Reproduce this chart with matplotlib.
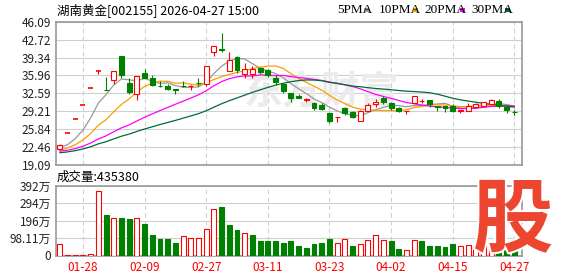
import matplotlib
matplotlib.use('Agg')
import matplotlib.pyplot as plt
from matplotlib.patches import Rectangle
import matplotlib.patheffects as pe
import pandas as pd

plt.rcParams['font.family'] = ['Noto Sans CJK SC', 'DejaVu Sans']

# 日期 (60 个交易日)
dates = ['01-23', '01-26', '01-27', '01-28', '01-29', '01-30', '02-02', '02-03', '02-04', '02-05',
         '02-06', '02-09', '02-10', '02-11', '02-12', '02-13', '02-24', '02-25', '02-26', '02-27',
         '03-02', '03-03', '03-04', '03-05', '03-06', '03-09', '03-10', '03-11', '03-12', '03-13',
         '03-16', '03-17', '03-18', '03-19', '03-20', '03-23', '03-24', '03-25', '03-26', '03-27',
         '03-30', '03-31', '04-01', '04-02', '04-03', '04-07', '04-08', '04-09', '04-10', '04-13',
         '04-14', '04-15', '04-16', '04-17', '04-20', '04-21', '04-22', '04-23', '04-24', '04-27']

opens = [22.10, 25.19, 27.71, 30.48, 33.53, 36.88, 33.25, 35.10, 39.60, 34.50,
         32.40, 36.50, 35.50, 34.00, 33.90, 33.35, 34.00, 33.90, 34.50, 34.30,
         40.30, 41.00, 36.85, 39.45, 36.20, 36.20, 37.30, 37.00, 35.50, 34.30,
         32.60, 32.10, 31.40, 30.70, 30.40, 28.90, 28.10, 29.75, 29.00, 27.40,
         29.30, 30.50, 31.75, 30.70, 29.75, 29.25, 30.85, 31.10, 31.30, 30.20,
         30.15, 30.15, 29.35, 29.35, 30.10, 30.25, 30.60, 31.20, 30.05, 29.05]
highs = [23.00, 25.19, 27.71, 30.48, 33.53, 36.88, 35.60, 36.80, 39.65, 35.50,
         35.95, 37.20, 36.00, 34.90, 34.30, 33.40, 34.90, 34.20, 35.50, 37.75,
         41.55, 44.00, 40.40, 39.60, 38.30, 37.80, 37.60, 37.20, 36.00, 34.60,
         32.60, 32.40, 31.70, 30.90, 30.80, 29.00, 28.20, 30.00, 29.20, 29.50,
         30.80, 31.55, 32.10, 31.00, 30.00, 29.35, 32.10, 31.60, 31.40, 30.20,
         30.20, 30.50, 29.50, 30.70, 30.70, 30.95, 31.60, 31.50, 30.10, 29.40]
lows = [22.00, 25.19, 27.71, 30.48, 33.53, 36.17, 33.19, 34.40, 35.40, 32.50,
        31.30, 35.40, 34.00, 33.70, 33.30, 32.45, 33.70, 33.20, 33.97, 33.95,
        39.60, 40.40, 36.80, 36.50, 35.50, 35.50, 36.30, 35.60, 34.20, 32.60,
        31.00, 31.65, 31.00, 29.45, 29.50, 26.95, 27.20, 28.50, 27.90, 27.35,
        29.20, 30.10, 30.60, 29.50, 29.00, 28.70, 30.80, 30.70, 30.10, 29.30,
        29.05, 29.10, 28.90, 29.30, 30.00, 30.20, 30.55, 29.80, 28.95, 28.50]
closes = [22.90, 25.19, 27.71, 30.48, 33.53, 36.88, 33.19, 36.80, 36.05, 32.80,
          35.90, 35.50, 34.15, 33.95, 33.35, 33.30, 33.95, 34.00, 34.45, 37.75,
          41.50, 40.85, 38.80, 37.00, 37.15, 37.10, 36.60, 36.00, 34.80, 33.00,
          31.75, 31.70, 31.45, 29.80, 29.60, 27.45, 28.15, 28.85, 28.20, 29.20,
          30.40, 30.95, 31.00, 29.80, 29.28, 29.30, 32.05, 31.15, 30.50, 29.95,
          29.90, 29.35, 29.45, 30.20, 30.50, 30.90, 31.40, 30.20, 29.40, 29.00]
# 图表之前的收盘价 (用于均线)
prior_closes = [20.5, 20.7, 20.9, 21.0, 20.6, 20.8, 21.1, 20.7, 20.9, 20.8,
                21.9, 21.6, 21.3, 21.5, 21.7, 21.4, 21.2, 21.5, 21.6, 21.3,
                21.2, 21.6, 21.5, 21.3, 21.4, 22.6, 22.0, 22.3, 22.2]
# 成交量 (万手)
volumes = [62, 5, 3, 4, 6, 361, 226, 212, 212, 203,
           212, 175, 113, 90, 90, 68, 107, 96, 96, 150,
           263, 273, 171, 141, 124, 113, 81, 81, 81, 70,
           81, 56, 43, 62, 68, 90, 68, 94, 51, 62,
           85, 113, 88, 79, 34, 32, 88, 79, 56, 51,
           47, 62, 51, 60, 55, 51, 70, 65, 43, 43.538]

price_ticks = [19.09, 22.465, 25.84, 29.215, 32.59, 35.965, 39.34, 42.715, 46.09]
price_labels = ['19.09', '22.46', '25.84', '29.21', '32.59', '35.96', '39.34', '42.72', '46.09']
vol_ticks = [0, 98.11, 196.22, 294.33, 392.44]
vol_labels = ['0', '98.11万', '196万', '294万', '392万']

ma_periods = [5, 10, 20, 30]
ma_names = ['5PMA', '10PMA', '20PMA', '30PMA']
ma_colors = ['#999999', '#f5a000', '#ff00ff', '#006c35']

RED = '#ff0000'
GREEN = '#008000'
GRID = '#d0d0d0'
BORDER = '#999999'

n = len(closes)
all_closes = pd.Series(prior_closes + closes)
prev_close = [prior_closes[-1]] + closes[:-1]

W, H = 578, 276
fig = plt.figure(figsize=(W / 100, H / 100), dpi=100)
ax = fig.add_axes([56 / W, 1 - 165 / H, 466 / W, 143.3 / H])
axv = fig.add_axes([56 / W, 1 - 255.5 / H, 466 / W, 69.8 / H])

bw = 0.64
lw = 0.8

# 价格K线
for i in range(n):
    o, h, l, c = opens[i], highs[i], lows[i], closes[i]
    if c > o:
        ax.vlines(i, c, h, color=RED, lw=lw, zorder=4)
        ax.vlines(i, l, o, color=RED, lw=lw, zorder=4)
        ax.add_patch(Rectangle((i - bw / 2, o), bw, c - o, facecolor='white',
                               edgecolor=RED, lw=lw, zorder=4))
    elif c < o:
        ax.vlines(i, l, h, color=GREEN, lw=lw, zorder=4)
        ax.add_patch(Rectangle((i - bw / 2, c), bw, o - c, facecolor=GREEN,
                               edgecolor=GREEN, lw=lw, zorder=4))
    else:
        col = RED if c >= prev_close[i] else GREEN
        ax.vlines(i, l, h, color=col, lw=lw, zorder=4)
        ax.hlines(c, i - bw / 2, i + bw / 2, color=col, lw=1.2, zorder=4)

# 均线
for p, col in zip(ma_periods, ma_colors):
    ma = all_closes.rolling(p).mean().iloc[-n:].values
    ax.plot(range(n), ma, color=col, lw=0.9, zorder=3)

tick_idx = list(range(3, n, 8))

for a in (ax, axv):
    a.set_xlim(-0.5, n)
    for s in a.spines.values():
        s.set_color(BORDER)
        s.set_linewidth(1.2)
    for t in tick_idx:
        a.axvline(t, color=GRID, lw=0.8, ls=(0, (4, 3)), zorder=1)
    a.tick_params(length=0, labelsize=8.5, colors='#222222')

ax.set_ylim(price_ticks[0], price_ticks[-1])
ax.set_yticks(price_ticks)
ax.set_yticklabels(price_labels)
ax.set_xticks([])
for v in price_ticks:
    ax.axhline(v, color=GRID, lw=0.8, zorder=1)

# 水印
ax.text(0.57, 0.5, '东方财富', transform=ax.transAxes, fontsize=28, color='#ebebeb',
        ha='center', va='center', style='italic', fontweight='bold', zorder=2)

# 成交量
for i in range(n):
    if closes[i] >= prev_close[i]:
        axv.add_patch(Rectangle((i - bw / 2, 0), bw, volumes[i], facecolor='white',
                                edgecolor=RED, lw=lw, zorder=3))
    else:
        axv.add_patch(Rectangle((i - bw / 2, 0), bw, volumes[i], facecolor=GREEN,
                                edgecolor=GREEN, lw=lw, zorder=3))
axv.set_ylim(0, vol_ticks[-1])
axv.set_yticks(vol_ticks)
axv.set_yticklabels(vol_labels)
for v in vol_ticks:
    axv.axhline(v, color=GRID, lw=0.8, zorder=1)
axv.set_xticks(tick_idx)
axv.set_xticklabels([dates[i] for i in tick_idx], color=RED)
axv.tick_params(axis='x', pad=4)

# 标题与图例
fig.text(57 / W, 1 - 10 / H, '湖南黄金[002155] 2026-04-27 15:00', fontsize=9, va='center')
fig.text(57 / W, 1 - 177 / H, '成交量:' + str(int(round(volumes[-1] * 10000))),
         fontsize=9, va='center')

leg_x = [337, 379, 424, 471]
mark_x = [364, 413, 460, 505]
for x0, xm, name, col in zip(leg_x, mark_x, ma_names, ma_colors):
    fig.text(x0 / W, 1 - 10 / H, name, fontsize=9.5, va='center',
             family=['Liberation Serif', 'DejaVu Serif'])
    fig.add_artist(Rectangle((xm / W, 1 - 11.5 / H), 5 / W, 3 / H,
                             facecolor=col, edgecolor='none', transform=fig.transFigure))

# 股 logo
fig.text(513 / W, 1 - 222 / H, '股', fontsize=58, color='#ec4530', fontweight='bold',
         ha='center', va='center', zorder=10,
         path_effects=[pe.withStroke(linewidth=3, foreground='white')])

fig.savefig('out.png', dpi=100)
